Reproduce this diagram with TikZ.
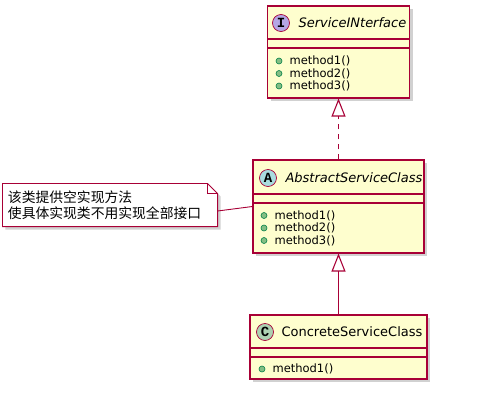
\documentclass[tikz,border=0pt]{standalone}
\usepackage{fontspec}
\setmainfont{DejaVu Sans}
\setmonofont{Liberation Mono}
\newfontfamily\cjk{Noto Sans CJK SC}
\usetikzlibrary{arrows.meta, positioning, calc, shadows, backgrounds}
\definecolor{cred}{HTML}{A80036}
\definecolor{cfill}{HTML}{FEFECE}
\definecolor{cpurple}{HTML}{B4A7E5}
\definecolor{cteal}{HTML}{A9DCDF}
\definecolor{cgreen}{HTML}{ADD1B2}
\definecolor{cdot}{HTML}{84BE84}
\definecolor{cdotline}{HTML}{038048}
\tikzset{
  every picture/.style={x=1pt, y=-1pt, line width=1.1pt},
  classbox/.style={draw=cred, fill=cfill, inner sep=0pt, drop shadow={shadow xshift=3pt, shadow yshift=-3pt, opacity=0.3, fill=black!60}},
  divider/.style={draw=cred, line width=1.1pt},
  badge/.style={circle, draw=cred, fill=#1, line width=0.7pt, minimum size=17pt, inner sep=0pt, font=\ttfamily\bfseries\fontsize{14}{14}\selectfont},
  classname/.style={anchor=west, inner sep=0pt, font=\fontsize{13}{15}\selectfont},
  dot/.style={circle, draw=cdotline, fill=cdot, line width=0.6pt, minimum size=6pt, inner sep=0pt},
  member/.style={anchor=west, inner sep=0pt, font=\fontsize{11.5}{13}\selectfont},
  realize/.style={-{Triangle[open, length=18pt, width=14pt]}, draw=cred, line width=1.1pt},
  notetext/.style={minimum width=214pt, minimum height=42pt, text width=204pt, inner xsep=5pt, inner ysep=0pt, align=left, font=\cjk\fontsize{13.8}{16}\selectfont},
  notebox/.style={draw=cred, fill=white, line width=0.9pt, drop shadow={shadow xshift=3pt, shadow yshift=-3pt, opacity=0.3, fill=black!60}},
}

\begin{document}
\begin{tikzpicture}
  \useasboundingbox (0,0) rectangle (480,405);
  % interface
  \node[classbox, minimum width=142pt, minimum height=92pt] (iface) at (338.5,52) {};
  \draw[divider] (267.5,39) -- (409.5,39) (267.5,48) -- (409.5,48);
  \node[badge=cpurple] (ifacebadge) at (281,23) {I};
  \node[classname] (ifacename) at (298,23) {\itshape ServiceINterface};
  \foreach \m [count=\i] in {method1(), method2(), method3()} {
    \node[dot] (ifacedot\i) at (279,48.5+12.5*\i) {};
    \node[member] (ifacem\i) at (289,48.5+12.5*\i) {\m};
  }
  % abstract class
  \node[classbox, minimum width=171pt, minimum height=93pt] (abs) at (338.5,206.5) {};
  \draw[divider] (253,194) -- (424,194) (253,203) -- (424,203);
  \node[badge=cteal] (absbadge) at (268,178) {A};
  \node[classname] (absname) at (285,178) {\itshape AbstractServiceClass};
  \foreach \m [count=\i] in {method1(), method2(), method3()} {
    \node[dot] (absdot\i) at (264,203+12.5*\i) {};
    \node[member] (absm\i) at (274,203+12.5*\i) {\m};
  }
  % concrete class
  \node[classbox, minimum width=177pt, minimum height=64pt] (conc) at (338.5,347) {};
  \draw[divider] (250,348) -- (427,348) (250,357) -- (427,357);
  \node[badge=cgreen] (concbadge) at (265,332) {C};
  \node[classname] (concname) at (281,332) {ConcreteServiceClass};
  \node[dot] (concdot1) at (262,369) {};
  \node[member] (concm1) at (272,369) {method1()};
  % relations
  \draw[realize, dash pattern=on 5pt off 5pt] (abs.north) -- (iface.south);
  \draw[realize] (conc.north) -- (abs.south);
  % note
  \node[notetext] (note) at (110,205) {该类提供空实现方法\\使具体实现类不用实现全部接口};
  \begin{scope}[on background layer]
    \draw[notebox] (note.north west) -- ([xshift=-10pt]note.north east) -- ([yshift=-10pt]note.north east) -- (note.south east) -- (note.south west) -- cycle;
  \end{scope}
  \draw[cred, line width=0.9pt] ([xshift=-10pt]note.north east) -- ([xshift=-10pt, yshift=-10pt]note.north east) -- ([yshift=-10pt]note.north east);
  \draw[divider, line width=0.9pt] ([yshift=-6pt]note.east) -- (abs.west);
\end{tikzpicture}
\end{document}
